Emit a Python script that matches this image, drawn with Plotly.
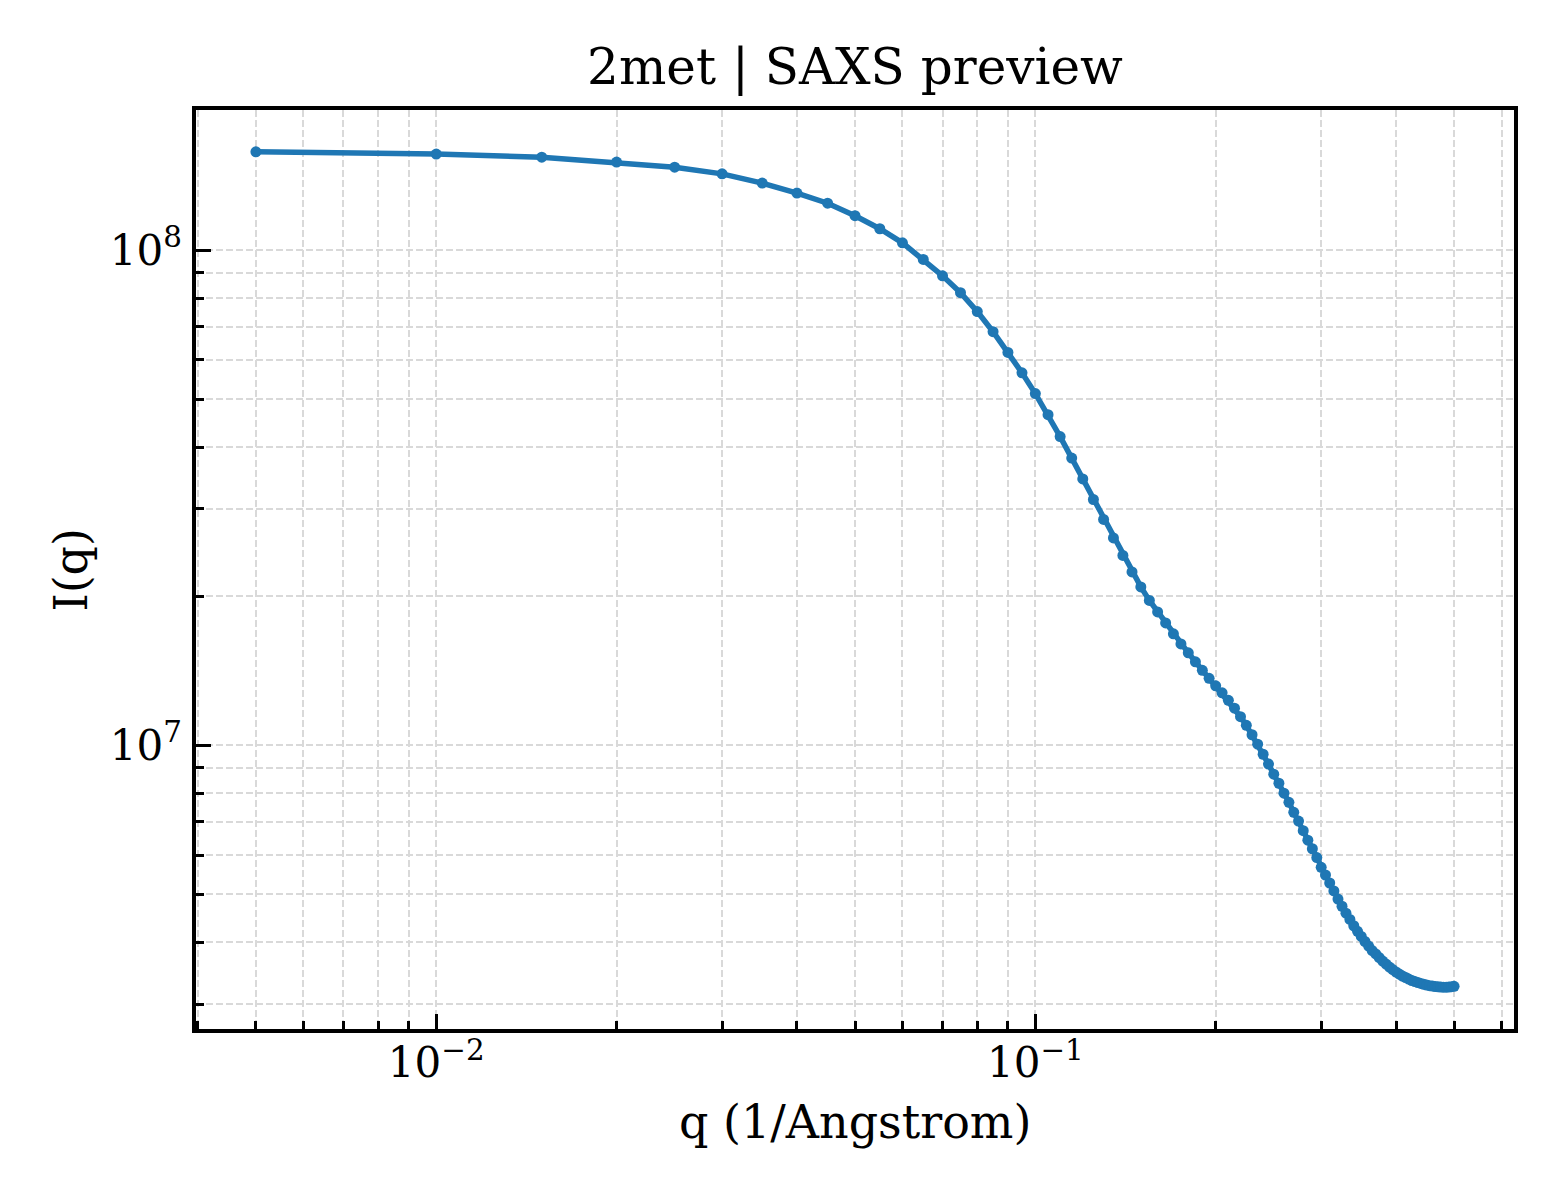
import numpy as np
import plotly.graph_objects as go

q = [
    0.005, 0.010, 0.015, 0.020, 0.025, 0.030, 0.035, 0.040, 0.045, 0.050,
    0.055, 0.060, 0.065, 0.070, 0.075, 0.080, 0.085, 0.090, 0.095, 0.100,
    0.105, 0.110, 0.115, 0.120, 0.125, 0.130, 0.135, 0.140, 0.145, 0.150,
    0.155, 0.160, 0.165, 0.170, 0.175, 0.180, 0.185, 0.190, 0.195, 0.200,
    0.205, 0.210, 0.215, 0.220, 0.225, 0.230, 0.235, 0.240, 0.245, 0.250,
    0.255, 0.260, 0.265, 0.270, 0.275, 0.280, 0.285, 0.290, 0.295, 0.300,
    0.305, 0.310, 0.315, 0.320, 0.325, 0.330, 0.335, 0.340, 0.345, 0.350,
    0.355, 0.360, 0.365, 0.370, 0.375, 0.380, 0.385, 0.390, 0.395, 0.400,
    0.405, 0.410, 0.415, 0.420, 0.425, 0.430, 0.435, 0.440, 0.445, 0.450,
    0.455, 0.460, 0.465, 0.470, 0.475, 0.480, 0.485, 0.490, 0.495, 0.500,
]
intensity = [
    1.579e8, 1.562e8, 1.540e8, 1.505e8, 1.470e8, 1.425e8, 1.365e8, 1.303e8, 1.243e8, 1.173e8,
    1.104e8, 1.034e8, 9.57e7, 8.87e7, 8.20e7, 7.51e7, 6.84e7, 6.21e7, 5.65e7, 5.13e7,
    4.65e7, 4.20e7, 3.80e7, 3.45e7, 3.135e7, 2.857e7, 2.622e7, 2.417e7, 2.239e7, 2.088e7,
    1.961e7, 1.859e7, 1.766e7, 1.679e7, 1.602e7, 1.537e7, 1.474e7, 1.417e7, 1.365e7, 1.318e7,
    1.276e7, 1.232e7, 1.188e7, 1.142e7, 1.097e7, 1.050e7, 1.005e7, 9.59e6, 9.16e6, 8.74e6,
    8.38e6, 8.00e6, 7.67e6, 7.32e6, 7.03e6, 6.72e6, 6.43e6, 6.18e6, 5.93e6, 5.67e6,
    5.47e6, 5.27e6, 5.08e6, 4.89e6, 4.73e6, 4.58e6, 4.45e6, 4.32e6, 4.21e6, 4.11e6,
    4.015e6, 3.93e6, 3.85e6, 3.79e6, 3.725e6, 3.665e6, 3.615e6, 3.565e6, 3.524e6, 3.484e6,
    3.451e6, 3.420e6, 3.396e6, 3.372e6, 3.349e6, 3.333e6, 3.318e6, 3.303e6, 3.290e6, 3.279e6,
    3.270e6, 3.263e6, 3.257e6, 3.252e6, 3.249e6, 3.246e6, 3.246e6, 3.249e6, 3.254e6, 3.260e6,
]

# tick positions and labels
x_major = [0.01, 0.1]
x_major_text = ["10<sup>\u22122</sup>", "10<sup>\u22121</sup>"]
x_minor = [0.004, 0.005, 0.006, 0.007, 0.008, 0.009,
           0.02, 0.03, 0.04, 0.05, 0.06, 0.07, 0.08, 0.09,
           0.2, 0.3, 0.4, 0.5, 0.6]
y_major = [1e7, 1e8]
y_major_text = ["10<sup>7</sup>", "10<sup>8</sup>"]
y_minor = [3e6, 4e6, 5e6, 6e6, 7e6, 8e6, 9e6,
           2e7, 3e7, 4e7, 5e7, 6e7, 7e7, 8e7, 9e7]

FONT = "DejaVu Serif"
BLUE = "#1f77b4"
GRID = "#d9d9d9"


# matplotlib-style 5% margins in log space
def log_range(vals, pad=0.05):
    lo, hi = np.log10(min(vals)), np.log10(max(vals))
    span = hi - lo
    return [lo - pad * span, hi + pad * span]


fig = go.Figure()
fig.add_trace(go.Scatter(
    x=q, y=intensity,
    mode="lines+markers",
    line=dict(color=BLUE, width=5.5),
    marker=dict(color=BLUE, size=11),
    showlegend=False,
))

axis_common = dict(
    type="log",
    showline=True, linecolor="black", linewidth=3.5, mirror=True,
    ticks="inside", ticklen=15, tickwidth=3, tickcolor="black",
    tickmode="array",
    showgrid=True, gridcolor=GRID, gridwidth=1.5, griddash="7px,3px",
    zeroline=False,
    tickfont=dict(family=FONT, size=42, color="black"),
)
minor_common = dict(
    tickmode="array", ticks="inside", ticklen=8, tickwidth=2.5, tickcolor="black",
    showgrid=True, gridcolor=GRID, gridwidth=1.5, griddash="7px,3px",
)

fig.update_xaxes(
    **axis_common,
    range=log_range(q),
    tickvals=x_major, ticktext=x_major_text,
    ticklabelstandoff=-6,
    minor=dict(tickvals=x_minor, **minor_common),
)
fig.update_yaxes(
    **axis_common,
    range=log_range(intensity),
    tickvals=y_major, ticktext=y_major_text,
    ticklabelstandoff=2,
    minor=dict(tickvals=y_minor, **minor_common),
)

fig.update_layout(
    width=1560, height=1200,
    margin=dict(l=196, r=46, t=110, b=171),
    paper_bgcolor="white", plot_bgcolor="white",
    font=dict(family=FONT, color="black"),
    title=dict(text="2met | SAXS preview", font=dict(family=FONT, size=50, color="black"),
               x=0.5, xref="paper", xanchor="center",
               y=1 - 66 / 1200, yref="container", yanchor="middle"),
    annotations=[
        dict(text="q (1/Angstrom)", x=0.5, y=0, xref="paper", yref="paper",
             xanchor="center", yanchor="top", yshift=-64, showarrow=False,
             font=dict(family=FONT, size=46, color="black")),
        dict(text="I(q)", x=0, y=0.5, xref="paper", yref="paper",
             xanchor="center", yanchor="middle", xshift=-126, textangle=-90,
             showarrow=False, font=dict(family=FONT, size=46, color="black")),
    ],
)

# drop the browser's default page margin so the figure sits at (0, 0)
fig.write_html("out.html", config={"displayModeBar": False},
               post_script="document.body.style.margin = '0';")
